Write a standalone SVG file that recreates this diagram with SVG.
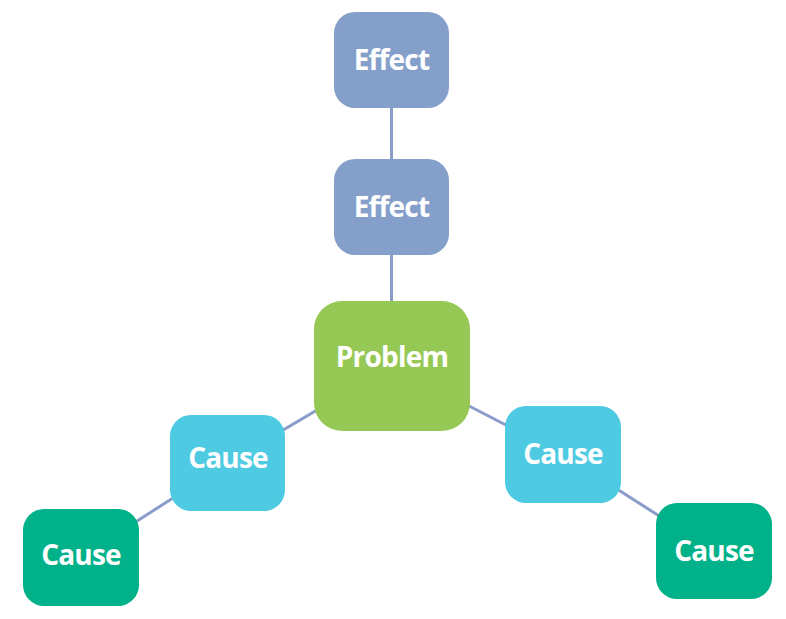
<svg xmlns="http://www.w3.org/2000/svg" width="786" height="619" viewBox="0 0 786 619">
<style>
.lbl{font-family:"Open Sans","Liberation Sans",sans-serif;font-weight:700;font-size:28px;letter-spacing:-0.8px;fill:#ffffff;text-anchor:middle}
.eff{fill:#849FCA}
.prob{fill:#96C856}
.c1{fill:#4ECAE3}
.c2{fill:#00B189}
.conn line{stroke:#8A9DCA;stroke-width:3}
</style>
<rect width="786" height="619" fill="#ffffff"/>
<g id="connectors" class="conn">
<line x1="391.5" y1="60" x2="391.5" y2="207"/>
<line x1="391.5" y1="207" x2="391.5" y2="366"/>
<line x1="391.5" y1="366" x2="227.5" y2="463"/>
<line x1="227.5" y1="463" x2="81" y2="557"/>
<line x1="391.5" y1="366" x2="563" y2="454.5"/>
<line x1="563" y1="454.5" x2="714" y2="551"/>
</g>
<g id="effect1"><rect class="eff" x="334" y="12" width="115" height="96" rx="21"/><text class="lbl" x="391.5" y="70">Effect</text></g>
<g id="effect2"><rect class="eff" x="334" y="159" width="115" height="96" rx="21"/><text class="lbl" x="391.5" y="217">Effect</text></g>
<g id="problem"><rect class="prob" x="314" y="301" width="156" height="130" rx="28"/><text class="lbl" x="392" y="367">Problem</text></g>
<g id="cause-left1"><rect class="c1" x="170" y="415" width="115" height="96" rx="21"/><text class="lbl" x="228" y="468">Cause</text></g>
<g id="cause-left2"><rect class="c2" x="23" y="509" width="116" height="97" rx="21"/><text class="lbl" x="81" y="565">Cause</text></g>
<g id="cause-right1"><rect class="c1" x="505" y="406" width="116" height="97" rx="21"/><text class="lbl" x="563" y="464">Cause</text></g>
<g id="cause-right2"><rect class="c2" x="656" y="503" width="116" height="96" rx="21"/><text class="lbl" x="714" y="561">Cause</text></g>
</svg>
